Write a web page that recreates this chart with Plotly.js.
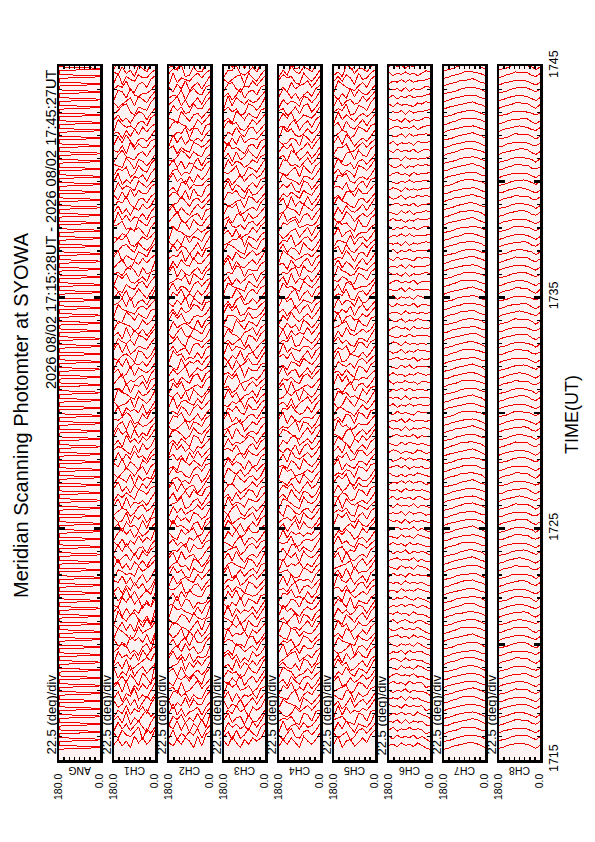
<!DOCTYPE html>
<html><head><meta charset="utf-8">
<script src="https://cdn.plot.ly/plotly-3.0.1.min.js"></script>
<style>html,body{margin:0;padding:0;background:#fff}#chart{width:595px;height:842px}
#chart .scatterlayer path.js-line{shape-rendering:crispEdges}</style>
</head><body><div id="chart"></div>
<script>
// ---------------- data ----------------
const TITLE = 'Meridian Scanning Photomter at SYOWA';
const PERIOD = '2026 08/02 17:15:28UT - 2026 08/02 17:45:27UT';
const X_TITLE = 'TIME(UT)';
const SCALE_LABEL = '22.5 (deg)/div';
const PANELS = ['ANG','CH1','CH2','CH3','CH4','CH5','CH6','CH7','CH8'];
const TIME_TICKS = [15,20,25,30,35,40,45];
const TIME_TICK_TEXT = ['1715','','1725','','1735','','1745'];
const ANGLE_TICKS = [0,22.5,45,67.5,90,112.5,135,157.5,180];
const ANGLE_TICK_TEXT = ['0.0','','','','','','','','180.0'];
const ANG_SWEEP_ANGLES = [180, 0, 0, 180];
const ANG_SWEEP_OFFSET_S = [0, 4, 6, 10];
const PROFILE_ANGLES = [180,162,144,126,108,90,72,54,36,18,0];
const SCAN_START = [
'17:15:28','17:15:48',
'17:16:08','17:16:28','17:16:48','17:17:08','17:17:28','17:17:48','17:18:08','17:18:28','17:18:48',
'17:19:08','17:19:28','17:19:48','17:20:08','17:20:28','17:20:48','17:21:08','17:21:28','17:21:48',
'17:22:08','17:22:28','17:22:48','17:23:08','17:23:28','17:23:48','17:24:08','17:24:28','17:24:48',
'17:25:08','17:25:28','17:25:48','17:26:08','17:26:28','17:26:48','17:27:08','17:27:28','17:27:48',
'17:28:08','17:28:28','17:28:48','17:29:08','17:29:28','17:29:48','17:30:08','17:30:28','17:30:48',
'17:31:08','17:31:28','17:31:48','17:32:08','17:32:28','17:32:48','17:33:08','17:33:28','17:33:48',
'17:34:08','17:34:28','17:34:48','17:35:08','17:35:28','17:35:48','17:36:08','17:36:28','17:36:48',
'17:37:08','17:37:28','17:37:48','17:38:08','17:38:28','17:38:48','17:39:08','17:39:28','17:39:48',
'17:40:08','17:40:28','17:40:48','17:41:08','17:41:28','17:41:48','17:42:08','17:42:28','17:42:48',
'17:43:08','17:43:28','17:43:48','17:44:08','17:44:28','17:44:48',
'17:45:08'];
// profile intensities per scan (base-36 digits, angle 180 -> 0)
const CH1 = [
"3625184736c","52743691859","2736258417b","46291537a68","1538264739d","6248371596a","3716492538c","5829163748b","2473851962e","7153926847a",
"4628135797c","1846372959b","3597241683d","6231857493a","2864139578c","5372618495b","1953784261a","4716253897c","3285947162b","6149372585d",
"2516384725a","4372615836b","1653428579c","3825164738a","5146273859b","2738415627a","4261538475c","1584726358b","3617452839a","5238164725b",
"2465137846a","3718254637b","1536428759a","4825163748c","2653817465b","3147526838a","5382641759b","1726384527a","4653172846b","2518463758c",
"3846172538b","1572836457a","4358612749b","2716453826a","5234718647c","1865327458b","3427165839a","2581436728b","4613827546a","1738254637b",
"3256418735a","4827136548b","1643528759c","3518264736a","2765413857b","4128637549a","1854326758b","3472815637c","2637148526a","5216437848b",
"1758324639a","3426851734b","2573164858a","4815327649c","1367428536b","3658214757a","2143768528b","4572318649a","1836254738b","3725164857c",
"2548316748a","4162837559b","1735428647a","3814265738b","2657138549c","4328517636a","1584326748b","3261847559a","2738415647b","4516273858a",
"1853426749b","3624158737a","2478316549c","4135728648b","1762843557a","3548216749b","2816437558a","4273518649b","1638425737a","3457126848b"];
const CH2 = [
"4263751829b","2715364827a","5382716494c","1647253838b","3926145727a","6153827449c","2784615338b","4518236947a","3165748529c","5728314636b",
"2459163748a","4836271545b","1573846239c","3615728447a","5248163736b","2764315829a","4137628545c","1856432738b","3492761545a","2617385449b",
"4358126737a","1725643858b","3846217549c","2563418736a","4718356248b","1436827559a","3624175837b","5217468349c","2845316728a","4163528746b",
"1736245858a","3458126737b","2614738549a","4827356148c","1563427836b","3745216859a","2318647538b","4625173847a","1847352658b","3526418739c",
"2764138547a","4135827649b","1658324737a","3427516858b","2815643749c","4362718536a","1748235649b","3516427838a","2635814757b","4218365748a",
"1856243739b","3624517858a","2473186547c","4158327649b","1735642838a","3847215657b","2516348749a","4263817538b","1648253747c","3725416858a",
"2354718649b","4816325737a","1627438558b","3548162749a","2736514838c","4152837649b","1865324757a","3417628548b","2583146739a","4726315858b",
"1348526747a","3652718439b","2417836558a","4835162747c","1562438659b","3726154838a","2148637549b","4615328757a","1837254648b","3254817739a",
"2675413858b","4318526747a","1746238559c","3582614738b","2437168549a","4163825737b","1825436858a","3658127449b","2316845737a","4547218658b"];
const CH3 = [
"5284163757c","3617248539b","1746352848d","4825617336a","2538461757c","6143725848b","3716254639a","1857346248c","4263815737b","2645138549d",
"3518264748a","5736142857b","2418635749c","4652317836a","1835462758b","3264718549a","5427136848c","2816354737b","4153827649a","1738265458b",
"3625418747a","2547136858b","4813625749a","1564328737c","3728415648b","2456137859a","4315826747b","1637248558a","3852614749b","2713546838c",
"4268315747a","1835427658b","3516248739a","2674135858b","4128536747c","1753624858a","3846517349b","2415738658a","4537216849b","1624358737a",
"3718425648b","2356814759a","4825136748c","1647328559b","3254617848a","2836145739b","4513726858a","1758234647b","3426817559a","2617358448c",
"4153826737b","1836547258a","3524618749b","2743156838a","4318527649c","1665238457b","3847126558a","2516834747b","4238516859a","1754328648b",
"3615247838a","2438716559b","4816325748c","1527436857a","3764218549b","2355817648a","4627134859b","1843526747a","3516827458b","2768135649c",
"4235618747a","1657328458b","3826415749a","2514736857b","4358127648c","1736524759a","3617248538b","2845316749a","4162835658b","1538427847a",
"3756214858b","2418637549a","4635128747c","1827536458b","3514826749a","2673154858b","4246718537a","1558324749b","3825617458a","2637415849b"];
const CH4 = [
"2637418536a","4158326747b","1825637458c","3546218739a","5213746858b","2754318647a","4326815759c","1648253847b","3517426758a","2865134749b",
"4632518736c","1357824648a","3814627559b","2546138747a","4218736558c","1763425849b","3525817638a","2846315757b","4137628548a","1658342736c",
"3426815647a","2718354538b","4563127648a","1835462537b","3264718546a","2517836437b","4348125657a","1726453548b","3615827436a","2453618547b",
"4186325637a","1764218546b","3528417635a","2647315846b","4315628537a","1856234647b","3427518536a","2618435747b","4253716846a","1537824637b",
"3764215848a","2435817636b","4816325547a","1658423738b","3527146847a","2364718536b","4718235647a","1546327858b","3825614737a","2416538647b",
"4637215838a","1825436647b","3548127536a","2716354847b","4263518636a","1638425747b","3514726838a","2857136547b","4326815738a","1745328647b",
"3618254736a","2436718547b","4517326838a","1864235647b","3725418536a","2548136747b","4136725838a","1657834546b","3824516737a","2365418647b",
"4718253836a","1536427548b","3647218736a","2854316647b","4325718538a","1763425847b","3518624736a","2647135848b","4236518637a","1857324746b",
"3426815738a","2748136547b","4513627836a","1635428747b","3862514638a","2417356847b","4756218536a","1528437648b","3645128737a","2386514847b"];
const CH5 = [
"3815624749c","5246137858b","2738416547d","4563218739a","1827354658c","3614825747b","5328716459a","2456138748c","4712635857b","1538427649d",
"3846125738a","2617358549b","4235816748c","1754328657a","3528614749b","2846137558a","4317526849c","1635248737b","3752816548a","2418635759b",
"4526137848a","1843625739b","3617284558c","2345716847a","4718325649b","1562438758a","3835216747b","2647513859c","4214638547a","1758326849b",
"3546218758a","2817435647b","4365128749a","1624837558c","3758216447b","2436518759a","4815326648b","1547238857a","3628415749b","2753164858c",
"4316825747a","1845236558b","3527618749a","2664315857b","4138527648c","1756342859a","3415826747b","2837154658a","4526318749b","1643527858a",
"3812654747b","2546138859a","4735216648c","1628435757b","3467218549a","2815634758b","4253716847a","1736528459b","3548216748c","2617834557a",
"4365128749b","1854237658a","3726415847b","2438516749c","4617325858a","1543826747b","3825614558a","2756318449b","4138625757a","1627435848c",
"3854216747a","2416738558b","4537126849a","1768325647b","3625418758c","2843516747a","4316728549b","1557236858a","3728514647b","2465138759a",
"4617325848b","1836425757a","3548127649c","2725634858b","4152837547a","1864325749b","3637518458a","2418736647b","4556128758a","1725346849b"];
const CH6 = [
"34253425310","42534352420","35243534301","43525243410","24353425320","53425343401","34352534210","42435243320","35342534401","24534352310",
"43253425421","35425343310","24352534421","53243425310","34534253421","42353435310","35245324421","43534253320","24353542431","52435324320",
"34253435432","43425343421","25342534332","43253425431","34534352422","52435243431","35342534322","43253425432","24534352421","53425243432",
"34352534423","42534352432","35243425423","43425343432","24353534423","53242435432","34535243423","42353534432","35424325423","43253543432",
"24534352433","53425243443","34352534434","42534325443","35243534434","43425243443","24353534434","52435342443","35342435434","43253524443",
"34534352434","42352435443","35425343434","43243534443","24534253434","53352435443","34425343434","42534352443","35243425434","43352534443",
"24534352444","53425243454","34352534445","42534325454","35243534445","43425243454","24353534445","52435342454","35342435445","43253524454",
"34534352445","42352435454","35425343445","43243534454","24534253445","53352435454","34425343445","42534352454","35243425445","43352534454",
"24534352455","53425243465","34352534456","42534325465","35243534456","43425243465","24353534456","52435342465","35342435456","43253524465"];
const CH7 = [
"01345677642","01245677653","02346777643","01345678753","01245667642","02345677653","01346777642","01245678753","02345667643","01345677652",
"01235677642","02346778653","01345667643","01245677752","02345678643","01346677653","01245677642","02355677653","01345778643","01245667652",
"02345677643","01346778653","01245667642","02345677753","01345678643","01235677652","02346777643","01345667653","01245678642","02345677652",
"01346677643","01245778653","02345667642","01345677653","01235678643","02346677652","01345777643","01245667653","02345678642","01346677652",
"01245677643","02355678653","01345667642","01246777653","02345677643","01345678652","01235667643","02346777653","01345677642","01245678652",
"02345667643","01346777653","01245677642","02345678753","01345667643","01235677652","02346678643","01345777653","01245667642","02345678652",
"01346677643","01245777653","02345667642","01345678653","01235677643","02346677652","01345777643","01245667653","02345678642","01346677652",
"01245677643","02355678653","01345667642","01246777653","02345677643","01345678652","01235667643","02346777653","01345677642","01245678652",
"02345667643","01346777653","01245677642","02345678653","01345667643","01235677652","02346678643","01345777653","01245667642","02345678652"];
const CH8 = [
"12456665314","12356676425","13456665314","12457766325","12356665314","13456776425","12456665315","12357666324","13456765314","12456676425",
"12356665324","13457766314","12456665425","12356776314","13456665325","12457666314","12356765425","13456676314","12456665324","12357766415",
"13456665314","12456776325","12356665414","13457666325","12456765314","12356676425","13456665314","12457766324","12356665415","13456776314",
"12456665325","12357666414","13456765325","12456676314","12356665424","13457766315","12456665314","12356776425","13456665314","12457666325",
"12356765414","13456676325","12456665314","12357766425","13456665314","12456776325","12356665414","13457666325","12456765314","12356676425",
"13456665314","12457766324","12356665415","13456776314","12456665325","12357666414","13456765325","12456676314","12356665424","13457766315",
"12456665314","12356776425","13456665314","12457666325","12356765414","13456676325","12456665314","12357766425","13456665314","12456776325",
"12356665414","13457666325","12456765314","12356676425","13456665314","12457766324","12356665415","13456776314","12456665325","12357666414",
"13456765325","12456676314","12356665424","13457766315","12456665314","12356776425","13456665314","12457666325","12356765414","13456676325"];
const CHANNELS = [CH1,CH2,CH3,CH4,CH5,CH6,CH7,CH8];

// ---------------- layout / style constants ----------------
const W = 595, H = 842;
const STRIP_LEFT = [59,114,169,224,279,334,389,444,499];
const STRIP_W = 41;
const TOP = 66, BOTTOM = 760;
const UNIT_MIN = [0.07,0.07,0.07,0.07,0.07,0.055,0.04,0.04]; // minutes of offset per intensity unit
const FONT = 'Liberation Sans, Arial, Helvetica, sans-serif';
const RED = '#f20000';
const xp = px => px / W;
const yp = py => 1 - py / H;

function toMin(s) {
  const p = s.split(':').map(Number);
  return (p[0] - 17) * 60 + p[1] + p[2] / 60;
}
const T0 = SCAN_START.map(toMin);

const traces = [];
// ANG panel: scan angle vs time
{
  const x = [], y = [];
  T0.forEach(t => {
    ANG_SWEEP_ANGLES.forEach((a, j) => { x.push(a); y.push(t + ANG_SWEEP_OFFSET_S[j] / 60); });
  });
  traces.push({type:'scatter', mode:'lines', x, y, xaxis:'x', yaxis:'y',
    line:{color:RED, width:1}, hoverinfo:'skip'});
}
CHANNELS.forEach((ch, k) => {
  const x = [], y = [];
  T0.forEach((t, i) => {
    const s = ch[i];
    if (!s) return;
    for (let j = 0; j < Math.min(s.length, PROFILE_ANGLES.length); j++) {
      x.push(PROFILE_ANGLES[j]);
      y.push(t + parseInt(s[j], 36) * UNIT_MIN[k]);
    }
    x.push(null); y.push(null);
  });
  const n = k + 2;
  traces.push({type:'scatter', mode:'lines', x, y, xaxis:'x' + n, yaxis:'y' + n,
    connectgaps:false, line:{color:RED, width:1}, hoverinfo:'skip'});
});

const layout = {
  width: W, height: H,
  margin: {l:0, r:0, t:0, b:0, pad:0},
  paper_bgcolor: '#ffffff',
  plot_bgcolor: '#fff2f2',
  showlegend: false,
  font: {family: FONT, color: '#000'},
  annotations: []
};

PANELS.forEach((name, i) => {
  const n = i + 1;
  const xa = n === 1 ? 'xaxis' : 'xaxis' + n;
  const ya = n === 1 ? 'yaxis' : 'yaxis' + n;
  const L = STRIP_LEFT[i];
  layout[xa] = {
    domain: [xp(L), xp(L + STRIP_W)],
    anchor: n === 1 ? 'y' : 'y' + n,
    range: [180, 0],
    tickmode: 'array', tickvals: ANGLE_TICKS, ticktext: ANGLE_TICK_TEXT,
    ticks: 'inside', ticklen: 3, tickwidth: 1.5, tickcolor: '#000',
    showline: true, linewidth: 2.5, linecolor: '#000', mirror: 'allticks',
    tickangle: -90, tickfont: {size: 10.5, family: FONT, color:'#000'},
    ticklabelstandoff: 7,
    showgrid: false, zeroline: false, fixedrange: true
  };
  layout[ya] = {
    domain: [yp(BOTTOM), yp(TOP)],
    anchor: n === 1 ? 'x' : 'x' + n,
    range: [15, 45],
    tickmode: 'array', tickvals: TIME_TICKS, ticktext: TIME_TICK_TEXT,
    ticks: 'inside', ticklen: 6, tickwidth: 2.5, tickcolor: '#000',
    minor: {tickmode:'linear', tick0: 15, dtick: 1, ticks:'inside', ticklen: 3, tickwidth: 1.2, tickcolor:'#000', showgrid:false},
    showline: true, linewidth: 2.5, linecolor: '#000', mirror: 'allticks',
    showticklabels: n === PANELS.length,
    side: 'right',
    tickangle: -90, tickfont: {size: 12.5, family: FONT, color:'#000'},
    showgrid: false, zeroline: false, fixedrange: true
  };
  layout.annotations.push({
    text: SCALE_LABEL, xref:'paper', yref:'paper',
    x: xp(L - 8.5), y: yp(757), xanchor:'center', yanchor:'bottom',
    textangle: -90, showarrow:false, font:{size: 13, family: FONT, color:'#000'}
  });
  layout.annotations.push({
    text: name, xref:'paper', yref:'paper',
    x: xp(L + STRIP_W / 2), y: yp(771), xanchor:'center', yanchor:'middle',
    textangle: 180, showarrow:false, font:{size: 10.5, family: FONT, color:'#000'}
  });
});

layout.annotations.push({
  text: TITLE, xref:'paper', yref:'paper', x: xp(21), y: yp(415),
  xanchor:'center', yanchor:'middle', textangle:-90, showarrow:false,
  font:{size: 20, family: FONT, color:'#000'}
});
layout.annotations.push({
  text: PERIOD, xref:'paper', yref:'paper', x: xp(51), y: yp(67),
  xanchor:'center', yanchor:'top', textangle:-90, showarrow:false,
  font:{size: 14.6, family: FONT, color:'#000'}
});
layout.annotations.push({
  text: X_TITLE, xref:'paper', yref:'paper', x: xp(572), y: yp(415),
  xanchor:'center', yanchor:'middle', textangle:-90, showarrow:false,
  font:{size: 18, family: FONT, color:'#000'}
});

Plotly.newPlot('chart', traces, layout, {staticPlot:true, displayModeBar:false});
</script>
</body></html>
